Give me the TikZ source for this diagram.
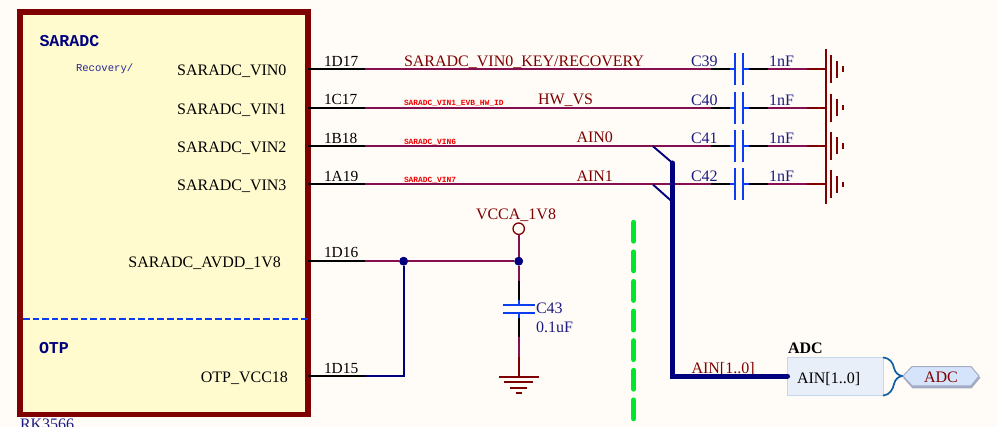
\documentclass[tikz,border=0pt]{standalone}
\usepackage{fontspec}
\setmainfont{Liberation Serif}
\setmonofont{Liberation Mono}
\definecolor{bgc}{HTML}{FFFCF7}
\definecolor{boxfill}{HTML}{FFFBCF}
\definecolor{dred}{HTML}{7F0000}
\definecolor{wirep}{HTML}{85104F}
\definecolor{navyc}{HTML}{00007F}
\definecolor{tnavy}{HTML}{1C1C80}
\definecolor{capb}{HTML}{0A3CF0}
\definecolor{gline}{HTML}{00E62A}
\definecolor{blockf}{HTML}{E9EFF9}
\definecolor{blockd}{HTML}{C6D6EC}
\definecolor{portf}{HTML}{D6E4FB}
\definecolor{portd}{HTML}{A3ACC4}
\definecolor{curlc}{HTML}{0F5EA6}
\tikzset{
  lbl/.style={inner sep=0pt,outer sep=0pt,anchor=base west,yshift=-0.7pt,font=\fontsize{16}{16}\selectfont},
  lblr/.style={lbl,anchor=base east},
  pinlbl/.style={lbl,font=\fontsize{15.4}{16}\selectfont,text=black},
  netlbl/.style={lbl,text=dred},
  partlbl/.style={lbl,text=tnavy},
  pinname/.style={lblr,text=black},
  secttl/.style={lbl,font=\fontsize{16.6}{17}\selectfont\ttfamily\bfseries,text=navyc},
  tinyred/.style={lbl,font=\fontsize{7.9}{8}\selectfont\ttfamily\bfseries,text=red!95!black},
  pinw/.style={draw=black,line width=1.9pt},
  netw/.style={draw=wirep,line width=1.9pt},
  redw/.style={draw=dred,line width=1.9pt},
  capw/.style={draw=capb,line width=1.9pt},
  gndw/.style={draw=dred,line width=1.8pt},
  buswire/.style={draw=navyc,line width=1.9pt},
  busthick/.style={draw=navyc,line width=5pt},
  jdot/.style={circle,fill=navyc,inner sep=0pt,minimum size=8.6pt},
}
\begin{document}
\begin{tikzpicture}[x=1pt,y=-1pt]
\useasboundingbox (0,0) rectangle (998,427);
\clip (0,0) rectangle (998,427);
\fill[bgc] (0,0) rectangle (998,427);

% chip
\node[draw=dred,fill=boxfill,line width=5.6pt,minimum width=288pt,minimum height=402.5pt,inner sep=0pt,outer sep=0pt,anchor=north west] (chip) at (20,12) {};
\draw[draw=capb,line width=1.8pt,dash pattern=on 6.6pt off 3pt] (23,319) -- (308,319);
\node[secttl] (tsar) at (39.5,45.7) {SARADC};
\node[secttl] (totp) at (39,352.7) {OTP};
\node[lbl,font=\fontsize{10.6}{11}\selectfont\ttfamily,text=blue!50!black!85] (trec) at (76,71.3) {Recovery/};
\node[partlbl] (rk) at (20,428.5) {RK3566};

% right-hand ground bar
\coordinate (gt) at (826,49);
\coordinate (gb) at (826,204);
\draw[gndw] (gt) -- (gb);

% four signal rows
\foreach \n/\y/\pn/\pb/\cn/\cb/\ny in {
  0/69.2/1D17/66/C39/66/75,
  1/107.8/1C17/104.2/C40/104.5/113.7,
  2/146/1B18/142.4/C41/142.5/152,
  3/184.3/1A19/180.8/C42/180.7/190}{
  \coordinate (p\n) at (308,\y);
  \coordinate (q\n) at (365,\y);
  \coordinate (r\n) at (710.5,\y);
  \coordinate (s\n) at (730,\y);
  \coordinate (a\n) at (735,\y);
  \coordinate (b\n) at (743,\y);
  \coordinate (t\n) at (749,\y);
  \coordinate (u\n) at (768,\y);
  \coordinate (v\n) at (807,\y);
  \coordinate (w\n) at (826,\y);
  \draw[pinw] (p\n) -- (q\n);
  \draw[netw] (q\n) -- (r\n);
  \draw[pinw] (r\n) -- (s\n);
  \draw[capw] (s\n) -- (a\n);
  \draw[capw] (b\n) -- (t\n);
  \draw[pinw] (t\n) -- (u\n);
  \draw[netw] (u\n) -- (v\n);
  \draw[redw] (v\n) -- (w\n);
  \draw[capw] ([yshift=16pt]a\n) -- ([yshift=-16pt]a\n);
  \draw[capw] ([yshift=16pt]b\n) -- ([yshift=-16pt]b\n);
  \draw[gndw] (831.3,\y-14) -- (831.3,\y+14);
  \draw[gndw] (837,\y-8.5) -- (837,\y+8.5);
  \draw[gndw] (843,\y-2.7) -- (843,\y+2.7);
  \node[pinname] (vin\n) at (286.5,\ny) {SARADC\_VIN\n};
  \node[pinlbl] (pn\n) at (324,\pb) {\pn};
  \node[partlbl] (cn\n) at (691,\cb) {\cn};
  \node[partlbl] (cv\n) at (769,\cb) {1nF};
}

% net labels
\node[netlbl] (n0) at (404,65.7) {SARADC\_VIN0\_KEY/RECOVERY};
\node[netlbl] (n1) at (538,104) {HW\_VS};
\node[netlbl] (n2) at (576.5,142.3) {AIN0};
\node[netlbl] (n3) at (576.5,180.7) {AIN1};
\node[tinyred] (s1) at (404,105) {SARADC\_VIN1\_EVB\_HW\_ID};
\node[tinyred] (s2) at (404,144) {SARADC\_VIN6};
\node[tinyred] (s3) at (404,182) {SARADC\_VIN7};

% bus
\coordinate (e0) at (653,146.3);
\coordinate (e1) at (653,184.6);
\coordinate (bt) at (672.5,163);
\coordinate (bm) at (672.5,202);
\coordinate (bc) at (672.5,376);
\draw[buswire] (e0) -- (bt);
\draw[buswire] (e1) -- (bm);
\node[netlbl] (nb) at (691.5,372.7) {AIN[1..0]};

% ADC block
\node[draw=blockd,fill=blockf,line width=1pt,minimum width=96pt,minimum height=38.5pt,inner sep=0pt,outer sep=0pt,anchor=north west] (adcb) at (787.3,357.3) {};
\draw[busthick,line cap=round] (bt) -- (bc) -- (787.5,376);
\node[lbl,font=\fontsize{16}{16}\selectfont\bfseries,text=black] (adct) at (788,352.7) {ADC};
\node[lbl,text=black] (adcp) at (797,382.3) {AIN[1..0]};
\coordinate (ptip) at (903,376);
\draw[draw=curlc,line width=1.7pt] (883,357.4) .. controls (890,358) and (893,363) .. (894,368) .. controls (895,373) and (899,376) .. (ptip);
\draw[draw=curlc,line width=1.7pt] (883,395.6) .. controls (890,395) and (893,389) .. (894,384) .. controls (895,379) and (899,376) .. (ptip);
\draw[portd,line width=2.4pt,line join=round] (904,377) -- (913,387.2) -- (971,387.2) -- (979.5,377);
\fill[portf,draw=portd,line width=1pt] (ptip) -- (912,366.5) -- (971,366.5) -- (979,376) -- (971,385.8) -- (912,385.8) -- cycle;
\node[lbl,anchor=base,text=dred] (portt) at (941,382) {ADC};

% power section
\coordinate (p4) at (308,261.2);
\coordinate (q4) at (365,261.2);
\coordinate (p5) at (308,376.3);
\coordinate (q5) at (365,376.3);
\node[jdot] (j1) at (403.6,261.2) {};
\node[jdot] (j2) at (518.7,261.2) {};
\draw[pinw] (p4) -- (q4);
\draw[netw] (q4) -- (j1) -- (j2);
\draw[pinw] (p5) -- (q5);
\draw[buswire] (q5) -- (403.6,376.3) -- (j1);
\node[jdot] at (j1) {};
\node[jdot] at (j2) {};
\node[pinname] (avdd) at (281,266.7) {SARADC\_AVDD\_1V8};
\node[pinname] (otpv) at (288,381.7) {OTP\_VCC18};
\node[pinlbl] (pn4) at (324,257.3) {1D16};
\node[pinlbl] (pn5) at (324,372.7) {1D15};

\node[circle,draw=dred,fill=bgc,line width=1.3pt,minimum size=11.4pt,inner sep=0pt,outer sep=0pt] (vcc) at (518.7,228.7) {};
\node[lbl,text=dred] (vcct) at (476,219) {VCCA\_1V8};
\draw[netw] (vcc) -- (j2);
\coordinate (c1) at (518.7,281);
\coordinate (c2) at (518.7,300);
\coordinate (c3) at (518.7,305);
\coordinate (c4) at (518.7,313);
\coordinate (c5) at (518.7,318);
\coordinate (c6) at (518.7,337);
\coordinate (c7) at (518.7,357);
\coordinate (c8) at (518.7,376.7);
\draw[netw] (j2) -- (c1);
\draw[pinw] (c1) -- (c2);
\draw[capw] (c2) -- (c3);
\draw[capw] (c4) -- (c5);
\draw[pinw] (c5) -- (c6);
\draw[netw] (c6) -- (c7);
\draw[redw] (c7) -- (c8);
\draw[capw] (502.7,305) -- (535,305);
\draw[capw] (502.7,313) -- (535,313);
\node[partlbl] (c43) at (536,313) {C43};
\node[partlbl] (c43v) at (536,332) {0.1uF};
\draw[gndw] (499,376.7) -- (539,376.7);
\draw[gndw] (504,382.3) -- (533,382.3);
\draw[gndw] (510,387.7) -- (527,387.7);
\draw[gndw] (516,393.3) -- (522,393.3);

% green separator
\coordinate (g1) at (633.7,222.5);
\coordinate (g2) at (633.7,430);
\draw[draw=gline,line width=5.4pt,line cap=round,dash pattern=on 18.5pt off 11.1pt] (g1) -- (g2);
\end{tikzpicture}
\end{document}
